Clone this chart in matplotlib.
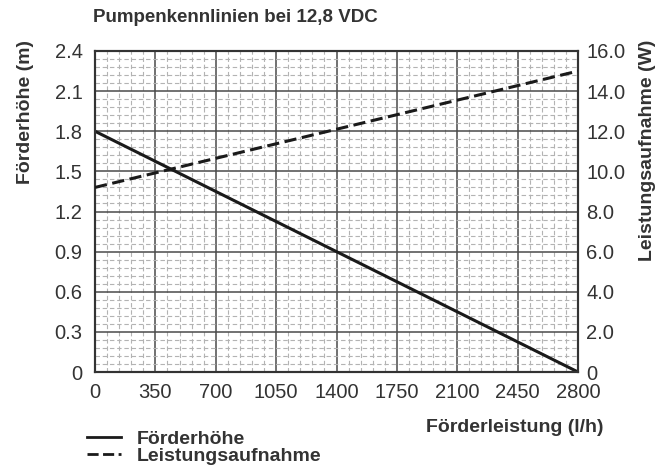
import matplotlib
matplotlib.use("Agg")
import matplotlib.pyplot as plt
import numpy as np
from matplotlib.lines import Line2D
from matplotlib.ticker import MultipleLocator

plt.rcParams['font.family'] = ['Liberation Sans', 'DejaVu Sans']

flow = [0, 2800]
head = [1.8, 0.0]
power = [9.2, 15.0]

x_ticks = [0, 350, 700, 1050, 1400, 1750, 2100, 2450, 2800]
y_left_ticks = [0, 0.3, 0.6, 0.9, 1.2, 1.5, 1.8, 2.1, 2.4]
y_left_labels = ["0", "0.3", "0.6", "0.9", "1.2", "1.5", "1.8", "2.1", "2.4"]
y_right_ticks = [0, 2, 4, 6, 8, 10, 12, 14, 16]
y_right_labels = ["0", "2.0", "4.0", "6.0", "8.0", "10.0", "12.0", "14.0", "16.0"]

txt = '#333333'
fig = plt.figure(figsize=(6.69, 4.66), dpi=100)
ax = fig.add_axes([95/669, 1-372/466, (578-95)/669, (372-51)/466])
ax2 = ax.twinx()

ax.set_xlim(0, 2800)
ax.set_ylim(0, 2.4)
ax2.set_ylim(0, 16)

ax.set_xticks(x_ticks)
ax.set_yticks(y_left_ticks)
ax.set_yticklabels(y_left_labels)
ax2.set_yticks(y_right_ticks)
ax2.set_yticklabels(y_right_labels)
ax.xaxis.set_minor_locator(MultipleLocator(70))
ax.yaxis.set_minor_locator(MultipleLocator(0.06))

ax.grid(which='minor', color='#b3b3b3', linestyle=(0, (4, 2.5)), linewidth=0.8)
ax.grid(which='major', color='#4a4a4a', linestyle='-', linewidth=1.1)
ax.set_axisbelow(True)

ax.tick_params(which='both', length=0, labelsize=14.5, colors=txt)
ax.tick_params(axis='y', pad=9)
ax.tick_params(axis='x', pad=8)
ax2.tick_params(which='both', length=0, labelsize=14.5, colors=txt, pad=6)
for a in (ax, ax2):
    for s in a.spines.values():
        s.set_color('#333333')
        s.set_linewidth(1.5)

ax.plot(flow, head, color='#1a1a1a', linewidth=2.2, linestyle='-', zorder=5)
ax2.plot(flow, power, color='#1a1a1a', linewidth=2.2, linestyle=(0, (4, 1.8)), zorder=5)

fig.text(93/669, 1-18/466, "Pumpenkennlinien bei 12,8 VDC", fontsize=13.5, fontweight='bold',
         color=txt, ha='left', va='center')
fig.text(25/669, 1-40/466, "Förderhöhe (m)", fontsize=14, fontweight='bold', color=txt,
         rotation=90, ha='center', va='top')
fig.text(648/669, 1-40/466, "Leistungsaufnahme (W)", fontsize=14, fontweight='bold', color=txt,
         rotation=90, ha='center', va='top')
fig.text(604/669, 1-427/466, "Förderleistung (l/h)", fontsize=14, fontweight='bold', color=txt,
         ha='right', va='center')

handles = [Line2D([0], [0], color='#1a1a1a', lw=2.0, ls='-'),
           Line2D([0], [0], color='#1a1a1a', lw=2.0, ls=(0, (4, 1.6)))]
leg = fig.legend(handles, ["Förderhöhe", "Leistungsaufnahme"], loc='upper left',
                 bbox_to_anchor=(87/669, 1-430/466), frameon=False, fontsize=14,
                 handlelength=1.75, handletextpad=0.8, labelspacing=0.0, borderpad=0,
                 borderaxespad=0)
for t in leg.get_texts():
    t.set_fontweight('bold')
    t.set_color(txt)

fig.savefig("out.png", dpi=100)
